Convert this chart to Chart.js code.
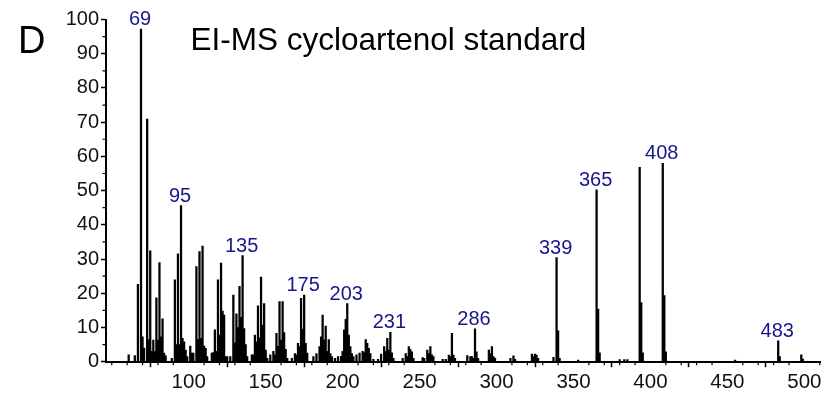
<!DOCTYPE html>
<html><head><meta charset="utf-8">
<script src="https://cdn.jsdelivr.net/npm/chart.js@4.4.1/dist/chart.umd.min.js"></script>
<style>html,body{margin:0;padding:0;background:#fff;}canvas{display:block;}</style>
</head><body>
<canvas id="c" width="821" height="394"></canvas>
<script>
// ---- data ----
const mz = [61,65,67,69,70,71,73,74,75,76,77,78,79,80,81,82,83,84,85,89,91,92,93,94,95,96,97,98,99,
  101,102,103,105,106,107,108,109,110,111,112,115,116,117,118,119,120,121,122,123,124,125,127,
  129,130,131,132,133,134,135,136,137,138,141,142,143,144,145,146,147,148,149,150,151,153,155,156,
  157,158,159,160,161,162,163,164,167,169,170,171,172,173,174,175,176,177,181,183,185,186,187,188,
  189,190,191,192,193,195,197,199,200,201,202,203,204,205,206,207,209,211,213,214,215,216,217,218,
  220,223,225,227,228,229,230,231,232,233,239,241,242,243,244,245,246,252,253,255,256,257,258,259,
  265,267,269,270,271,272,273,281,283,284,285,286,287,288,295,296,297,298,299,309,311,312,323,324,
  325,326,327,337,339,340,341,353,365,366,367,380,383,385,393,394,395,408,409,410,455,483,484,498,499];
const intensity = [2,1.8,22.6,97.2,7.3,4,70.9,6.5,32.4,3,6.3,3,18.7,6.3,29,7.3,12.5,2.5,1.7,1,23.9,5,31.5,5,45.6,6.8,5.8,3.4,1.5,
  4.6,2.5,2.5,27.8,6.5,32.2,6.8,33.8,4.6,3.9,1.5,2.5,2.7,9.3,3,23.9,7.8,28.8,14.8,13.6,1.5,1.5,1.5,
  19.5,5.5,14,10,22,13,31,9.7,5,1.5,2,2,7.8,5.8,16.3,7,24.7,10.7,17,3.4,1,2,3,2,
  8.3,4.5,17.6,6.3,17.6,8.5,3.6,1,1,2.4,2,5.4,4.4,18.5,9.5,19.5,5.4,2.5,1.5,2.4,4.4,7.3,13.6,6.3,
  10.4,3,6.5,2.4,1.5,1,1.5,1.6,3,9.3,12.4,17,7.8,4.4,2.4,1.5,2,2.5,3,2.7,6.5,5.4,3.9,2.4,
  0.7,0.7,2.2,4.4,3,6.8,3.4,8.6,2.6,1,1,2.4,1.5,4.4,3.6,2.9,1,1.2,1,3.4,2.4,4.4,2,1.5,
  0.7,0.7,1.9,1.5,8.3,1.9,1,1.8,1.5,1.5,1,9.6,2.9,1,3.4,2.4,4.4,1.5,1,1,1.7,0.7,2.2,1.5,
  2.2,1.9,1,1.3,30.4,9,1,0.5,50.2,15.4,2.6,0.6,0.6,0.6,56.8,17.3,2.6,58,19.3,2.9,0.5,6.1,1.5,2,0.8];
const labelledPeaks = [69,95,135,175,203,231,286,339,365,408,483];
const xTickLabels = [100,150,200,250,300,350,400,450,500];
const yTickLabels = [0,10,20,30,40,50,60,70,80,90,100];
const xMinorTicks = [50,60,70,80,90,110,120,130,140,160,170,180,190,210,220,230,240,260,270,280,290,310,320,330,340,360,370,380,390,410,420,430,440,460,470,480,490,510];
const yMinorTicks = [5,15,25,35,45,55,65,75,85,95];
const titleText = 'EI-MS cycloartenol standard';
const panelLetter = 'D';

const FONT = '"Liberation Sans", Arial, Helvetica, sans-serif';
const BLUE = '#16168a';

const points = mz.map((m, i) => ({ x: m, y: intensity[i] }));

const annotate = {
  id: 'annotate',
  afterDraw(chart) {
    const c = chart.ctx, xs = chart.scales.x, ys = chart.scales.y;
    const area = chart.chartArea;
    c.save();
    // minor ticks
    c.strokeStyle = '#000'; c.lineWidth = 1.2;
    c.beginPath();
    xMinorTicks.forEach(v => {
      const px = xs.getPixelForValue(v);
      if (px < area.left || px > area.right) return;
      c.moveTo(px, area.bottom); c.lineTo(px, area.bottom + 3.5);
    });
    yMinorTicks.forEach(v => {
      const py = ys.getPixelForValue(v);
      c.moveTo(area.left, py); c.lineTo(area.left - 3.5, py);
    });
    c.stroke();
    // peak labels
    c.fillStyle = BLUE;
    c.font = '20px ' + FONT;
    c.textAlign = 'center'; c.textBaseline = 'alphabetic';
    labelledPeaks.forEach(m => {
      const i = mz.indexOf(m);
      const px = xs.getPixelForValue(m);
      const py = ys.getPixelForValue(intensity[i]);
      c.fillText(String(m), px - 1, py - 4);
    });
    // title and panel letter
    c.fillStyle = '#000';
    c.textAlign = 'left';
    c.font = '31.5px ' + FONT;
    c.fillText(titleText, 190.5, 49.5);
    c.font = '38px ' + FONT;
    c.fillText(panelLetter, 18, 53);
    c.restore();
  }
};

new Chart(document.getElementById('c'), {
  type: 'bar',
  data: { datasets: [{ data: points, backgroundColor: '#000', borderWidth: 0, barThickness: 1.6 }] },
  options: {
    responsive: false, animation: false,
    layout: { padding: { top: 19.5, right: 0, left: 0, bottom: 0 } },
    plugins: { legend: { display: false }, tooltip: { enabled: false }, title: { display: false } },
    scales: {
      x: {
        type: 'linear', min: 46.26, max: 510.8, offset: false,
        afterBuildTicks: s => { s.ticks = xTickLabels.map(v => ({ value: v })); },
        afterFit: s => { s.height = 32.3; s.paddingLeft = 0; s.paddingRight = 0; },
        grid: { display: true, drawOnChartArea: false, drawTicks: true, tickLength: 5.5, tickColor: '#000', tickWidth: 1.5 },
        border: { display: true, color: '#000', width: 2 },
        ticks: { color: '#111', font: { family: FONT, size: 20.5 }, padding: 2.5, maxRotation: 0, autoSkip: false }
      },
      y: {
        min: 0, max: 100,
        afterBuildTicks: s => { s.ticks = yTickLabels.map(v => ({ value: v })); },
        afterFit: s => { s.width = 106; s.paddingTop = 0; s.paddingBottom = 0; },
        grid: { display: true, drawOnChartArea: false, drawTicks: true, tickLength: 5, tickColor: '#000', tickWidth: 1.5 },
        border: { display: true, color: '#000', width: 2 },
        ticks: { color: '#111', font: { family: FONT, size: 20 }, padding: 2, autoSkip: false }
      }
    }
  },
  plugins: [annotate]
});
</script>
</body></html>
